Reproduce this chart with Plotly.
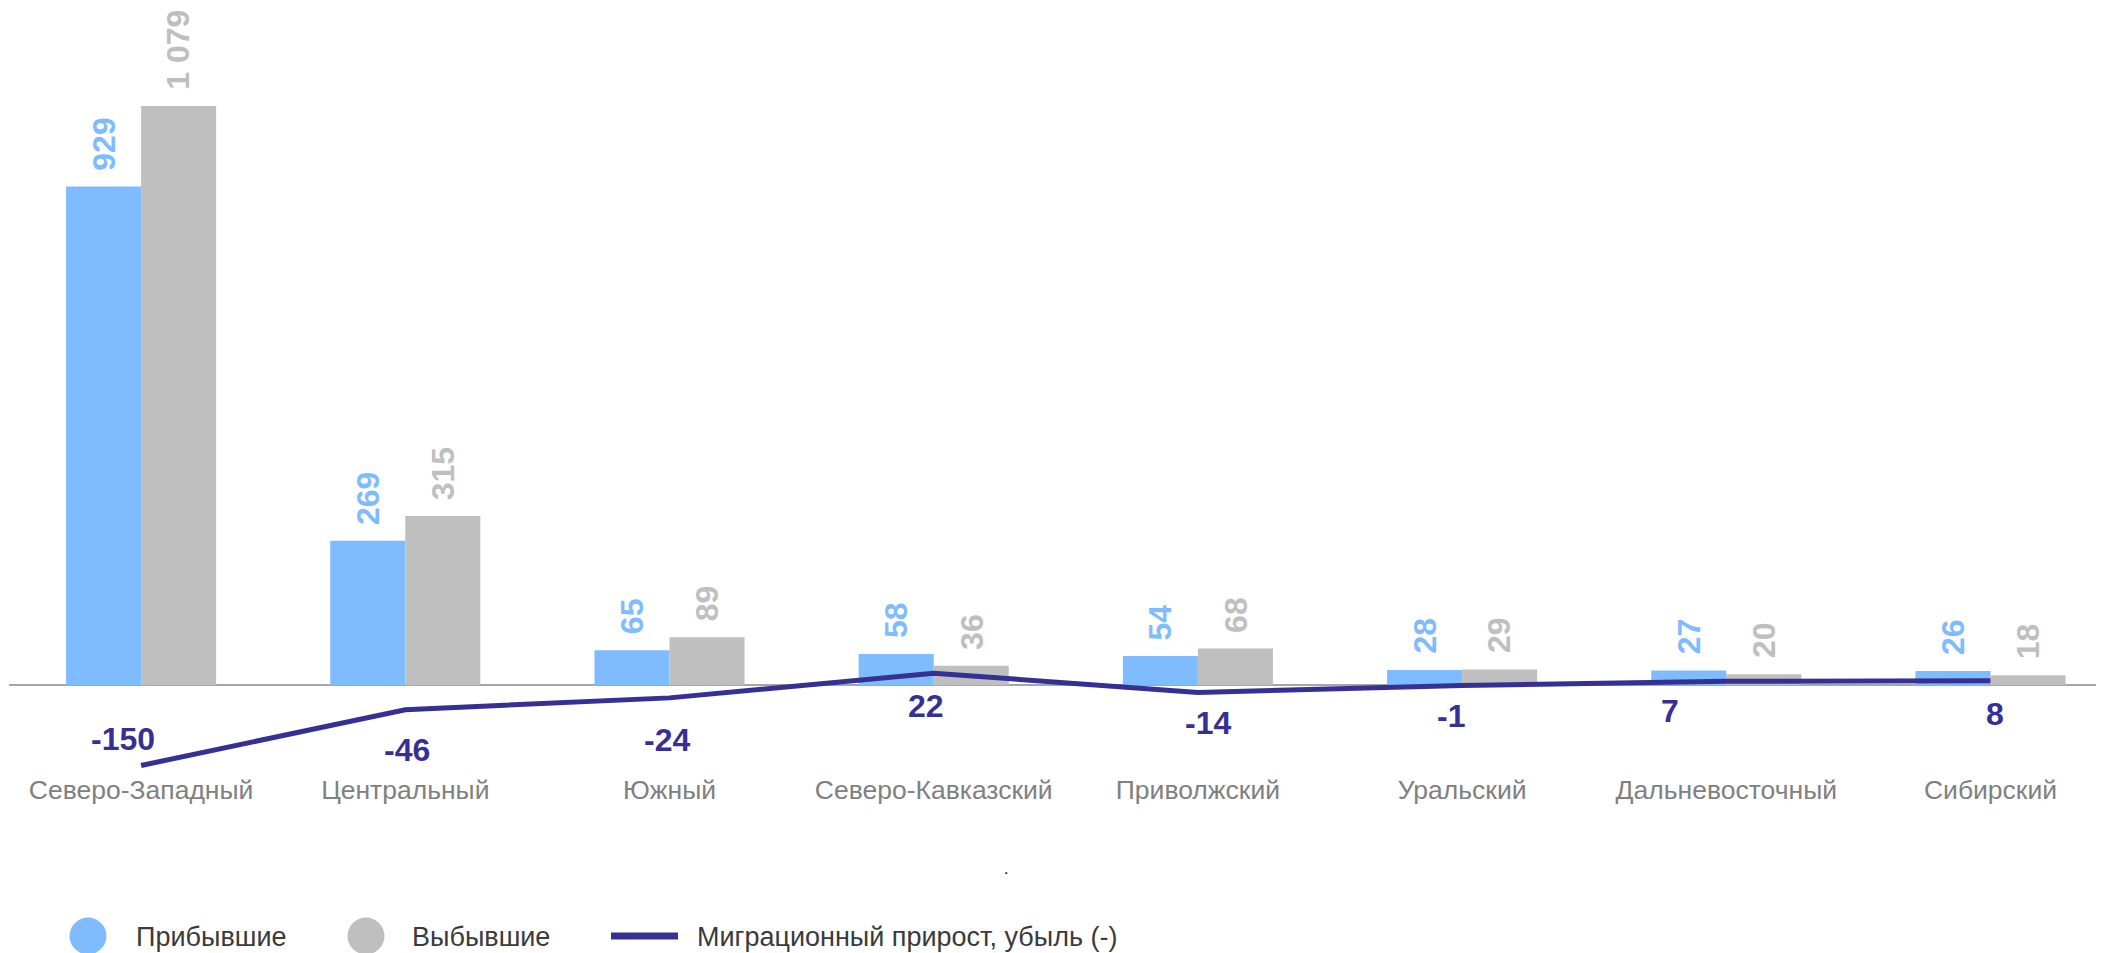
import plotly.graph_objects as go

# ---------------- data ----------------
categories = ["Северо-Западный", "Центральный", "Южный", "Северо-Кавказский",
              "Приволжский", "Уральский", "Дальневосточный", "Сибирский"]
arrived = [929, 269, 65, 58, 54, 28, 27, 26]
departed = [1079, 315, 89, 36, 68, 29, 20, 18]
net_migration = [-150, -46, -24, 22, -14, -1, 7, 8]

series_names = ["Прибывшие", "Выбывшие", "Миграционный прирост, убыль (-)"]

# ---------------- style ----------------
OFF = 8                      # page body margin offset of the figure
W, H = 2104 - OFF, 953 - OFF
ML, MR, MT, MB = 1, 0, 0, 183
PW, PH = W - ML - MR, H - MT - MB
FONT = "Liberation Sans, Arial, sans-serif"
C_BLUE = "#7FBBFF"
C_GRAY = "#BFBFBF"
C_LINE = "#373094"
C_AXIS_TXT = "#808080"
C_LEG_TXT = "#3A3A3A"

# net label placement (style): vertical / horizontal pixel shifts
net_label_dy = [26, -40, -42, -33, -30, -30, -30, -33]
net_label_dx = [-18, 2, -3, -8, 10, -11, -56, 4]

BAR_HALF_PX = 37.5


def fmt(v):
    return f"{v:,}".replace(",", " ")


def px2paper(sx, sy):
    fx, fy = sx - OFF, sy - OFF
    return (fx - ML) / PW, (MT + PH - fy) / PH


fig = go.Figure()
fig.add_trace(go.Bar(x=categories, y=arrived, name=series_names[0],
                     marker=dict(color=C_BLUE, line=dict(width=0)), showlegend=False))
fig.add_trace(go.Bar(x=categories, y=departed, name=series_names[1],
                     marker=dict(color=C_GRAY, line=dict(width=0)), showlegend=False))
fig.add_trace(go.Scatter(x=categories, y=net_migration, name=series_names[2], mode="lines",
                         line=dict(color=C_LINE, width=5), showlegend=False))

annotations = []
# bar value labels
for cat, a, d in zip(categories, arrived, departed):
    for val, col, sh in ((a, C_BLUE, -BAR_HALF_PX), (d, C_GRAY, BAR_HALF_PX)):
        annotations.append(dict(x=cat, y=val, xref="x", yref="y", text=f"<b>{fmt(val)}</b>",
                                showarrow=False, textangle=-90, yanchor="bottom",
                                xanchor="center", xshift=sh, yshift=14,
                                font=dict(family=FONT, size=32, color=col)))
# net migration labels
for cat, v, dy, dx in zip(categories, net_migration, net_label_dy, net_label_dx):
    annotations.append(dict(x=cat, y=v, xref="x", yref="y", text=f"<b>{v}</b>",
                            showarrow=False, yanchor="middle", xanchor="center",
                            yshift=dy, xshift=dx,
                            font=dict(family=FONT, size=32, color=C_LINE)))

# custom legend (screen pixel positions)
shapes = []
legend_y = 936
for cx, col in ((88, C_BLUE), (366, C_GRAY)):
    x0, y0 = px2paper(cx - 18.5, legend_y + 18.5)
    x1, y1 = px2paper(cx + 18.5, legend_y - 18.5)
    shapes.append(dict(type="circle", xref="paper", yref="paper", x0=x0, y0=y0, x1=x1, y1=y1,
                       fillcolor=col, line=dict(width=0)))
lx0, ly = px2paper(611, legend_y)
lx1, _ = px2paper(678, legend_y)
shapes.append(dict(type="line", xref="paper", yref="paper", x0=lx0, x1=lx1, y0=ly, y1=ly,
                   line=dict(color=C_LINE, width=7)))
for tx, name in ((134, series_names[0]), (410, series_names[1]), (695, series_names[2])):
    px_, py_ = px2paper(tx, legend_y + 1)
    annotations.append(dict(x=px_, y=py_, xref="paper", yref="paper", text=name,
                            showarrow=False, xanchor="left", yanchor="middle",
                            font=dict(family=FONT, size=27, color=C_LEG_TXT)))
# stray dot
dx_, dy_ = px2paper(1006, 879)
annotations.append(dict(x=dx_, y=dy_, xref="paper", yref="paper", text=".",
                        showarrow=False, font=dict(family=FONT, size=16, color="#000000")))

ppu = 0.5365  # pixels per unit
baseline_px = 685 - OFF
y_top = baseline_px / ppu
y_bot = -(PH - baseline_px) / ppu

fig.update_layout(
    width=W, height=H,
    margin=dict(l=ML, r=MR, t=MT, b=MB, pad=0),
    paper_bgcolor="white", plot_bgcolor="white",
    barmode="group", bargap=0.432, bargroupgap=0,
    showlegend=False,
    font=dict(family=FONT),
    xaxis=dict(range=[-0.5, -0.5 + PW / 264.2], showgrid=False, zeroline=False,
               showline=False, ticks="", tickfont=dict(family=FONT, size=26.5, color=C_AXIS_TXT),
               ticklabelstandoff=1),
    yaxis=dict(range=[y_bot, y_top], showgrid=False, showticklabels=False, showline=False,
               zeroline=True, zerolinecolor="#A6A6A6", zerolinewidth=2, ticks=""),
    annotations=annotations, shapes=shapes,
)

fig.write_html("out.html")
